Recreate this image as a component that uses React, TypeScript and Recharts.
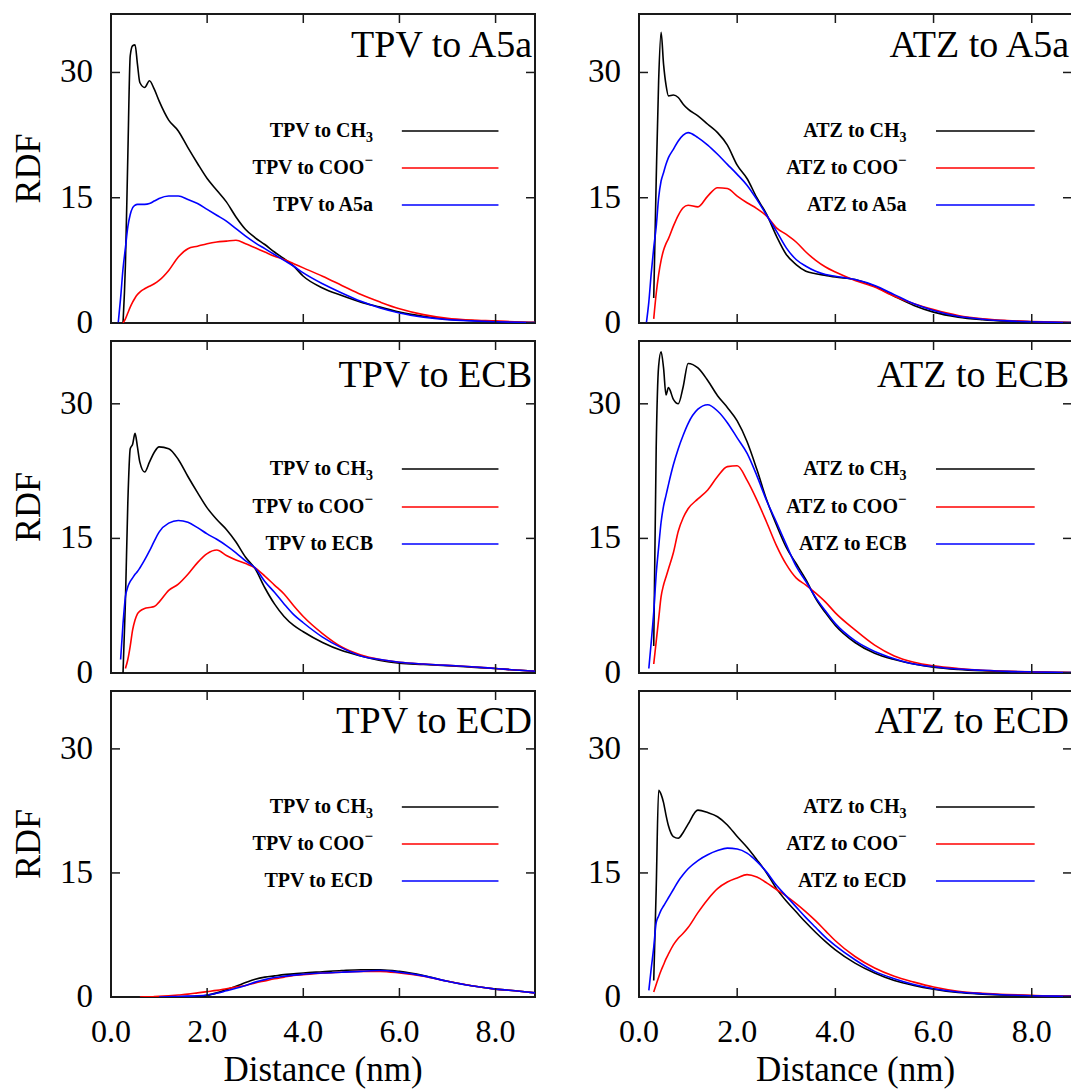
import { LineChart, Line, XAxis, YAxis, ReferenceArea, Legend, Label } from "recharts";

const FONT = '"Liberation Serif", "Times New Roman", Times, serif';

// distance grid (nm) shared by every curve
const DISTANCE = [
  0.15, 0.2, 0.25, 0.3, 0.35, 0.4, 0.45, 0.5, 0.55, 0.6, 0.7, 0.8, 0.9, 1.0, 1.2, 1.4, 1.6, 1.8, 2.0, 2.2,
  2.4, 2.6, 2.8, 3.0, 3.2, 3.4, 3.6, 3.8, 4.0, 4.4, 4.8, 5.2, 5.6, 6.0, 6.5, 7.0, 7.5, 8.0, 8.5, 8.82,
];

const X_TICKS = [0, 2, 4, 6, 8];
const Y_TICKS = [0, 15, 30];
const X_MAX = 8.82;
const Y_MAX = 37;

type V = number | null;
const _ = null;

// TPV to A5a
const TPV_A5A_CH3: V[] = [_, _, 0, 7, 20, 32, 33.2, 33.3, 31, 28.8, 28.2, 29.0, 28.0, 26.6, 24.3, 23.0, 21.0, 19.1, 17.3, 15.9, 14.5, 12.7, 11.2, 10.2, 9.4, 8.5, 7.7, 6.8, 5.6, 4.2, 3.3, 2.5, 1.9, 1.3, 0.8, 0.45, 0.3, 0.15, 0.08, 0.05];
const TPV_A5A_COO: V[] = [_, _, 0, 0.5, 1.2, 1.9, 2.5, 3.0, 3.4, 3.7, 4.1, 4.4, 4.7, 5.1, 6.3, 7.9, 8.9, 9.2, 9.5, 9.7, 9.8, 9.9, 9.5, 9.0, 8.5, 8.0, 7.6, 7.1, 6.6, 5.6, 4.5, 3.4, 2.5, 1.7, 1.0, 0.55, 0.35, 0.25, 0.12, 0.08];
const TPV_A5A_A5A: V[] = [0, 3, 6.5, 9, 11.5, 13.0, 13.8, 14.1, 14.2, 14.2, 14.2, 14.3, 14.6, 14.9, 15.2, 15.2, 14.8, 14.3, 13.6, 12.9, 12.2, 11.3, 10.4, 9.6, 8.9, 8.2, 7.5, 6.8, 6.0, 4.7, 3.6, 2.6, 1.8, 1.2, 0.7, 0.4, 0.25, 0.15, 0.08, 0.05];

// ATZ to A5a
const ATZ_A5A_CH3: V[] = [_, _, _, 3, 17, 29, 34.8, 31, 28.5, 27.2, 27.3, 27.0, 26.2, 25.6, 24.8, 23.8, 22.8, 21.3, 18.9, 17.3, 15.0, 13.0, 10.4, 8.2, 7.0, 6.2, 5.9, 5.7, 5.5, 5.2, 4.4, 3.2, 2.1, 1.3, 0.7, 0.4, 0.22, 0.12, 0.06, 0.04];
const ATZ_A5A_COO: V[] = [_, _, _, 0.5, 3.5, 5.8, 7.5, 8.7, 9.5, 10.1, 11.6, 12.9, 13.8, 14.1, 13.9, 15.2, 16.2, 16.1, 15.2, 14.4, 13.7, 12.8, 11.4, 10.6, 9.7, 8.5, 7.5, 6.7, 6.1, 5.1, 4.3, 3.2, 2.3, 1.6, 0.9, 0.5, 0.3, 0.18, 0.1, 0.06];
const ATZ_A5A_A5A: V[] = [0, 2.5, 6, 9, 11.5, 15, 17, 18, 19, 19.8, 20.8, 21.8, 22.5, 22.8, 22.2, 21.3, 20.2, 19.0, 17.8, 16.5, 14.8, 12.9, 11.0, 9.0, 7.6, 6.8, 6.2, 5.8, 5.6, 5.2, 4.5, 3.4, 2.3, 1.5, 0.8, 0.45, 0.25, 0.15, 0.08, 0.05];

// TPV to ECB
const TPV_ECB_CH3: V[] = [_, _, 0, 8, 19, 25, 25.5, 26.7, 25.2, 23.5, 22.4, 23.5, 24.6, 25.2, 25.0, 23.8, 21.9, 20.1, 18.4, 17.1, 16.0, 14.6, 12.9, 11.6, 9.5, 7.7, 6.3, 5.3, 4.6, 3.4, 2.5, 1.9, 1.4, 1.1, 0.95, 0.8, 0.65, 0.5, 0.3, 0.2];
const TPV_ECB_COO: V[] = [_, _, _, 0.5, 1.5, 3.0, 4.8, 5.9, 6.6, 6.9, 7.2, 7.3, 7.4, 7.9, 9.2, 9.9, 11.0, 12.3, 13.3, 13.7, 13.1, 12.6, 12.2, 11.7, 10.8, 9.8, 8.8, 7.5, 6.3, 4.4, 2.9, 2.0, 1.5, 1.2, 1.0, 0.85, 0.7, 0.5, 0.3, 0.2];
const TPV_ECB_ECB: V[] = [_, 1.5, 5.5, 8.5, 9.6, 10.2, 10.6, 11.0, 11.3, 11.7, 12.6, 13.6, 14.7, 15.7, 16.7, 17.0, 16.8, 16.2, 15.5, 14.9, 14.2, 13.4, 12.5, 11.7, 10.2, 9.0, 7.7, 6.5, 5.6, 4.0, 2.8, 1.9, 1.5, 1.2, 1.0, 0.85, 0.7, 0.5, 0.3, 0.2];

// ATZ to ECB
const ATZ_ECB_CH3: V[] = [_, _, _, 3, 25, 34.2, 35.8, 34, 31, 31.8, 30.5, 30.0, 31.9, 34.5, 34.0, 32.6, 30.9, 29.6, 28.1, 25.8, 22.7, 19.3, 16.5, 14.0, 12.2, 10.4, 8.3, 6.7, 5.3, 3.4, 2.2, 1.5, 1.0, 0.65, 0.4, 0.25, 0.15, 0.1, 0.06, 0.04];
const ATZ_ECB_COO: V[] = [_, _, _, 1.0, 3.5, 6.0, 8.5, 9.8, 10.7, 11.6, 13.4, 15.8, 17.3, 18.3, 19.4, 20.4, 21.9, 23.0, 23.1, 21.5, 19.3, 16.8, 14.2, 12.1, 10.6, 9.8, 8.9, 7.9, 6.7, 4.8, 3.1, 1.9, 1.2, 0.8, 0.5, 0.3, 0.2, 0.12, 0.08, 0.05];
const ATZ_ECB_ECB: V[] = [_, 0.5, 3.5, 6.8, 11, 14, 16.8, 18.6, 19.8, 21, 23.2, 25, 26.5, 27.8, 29.4, 29.9, 29.2, 27.9, 26.2, 24.5, 22, 19.2, 16.8, 14.3, 11.9, 10.2, 8.4, 6.9, 5.5, 3.6, 2.4, 1.6, 1.0, 0.7, 0.45, 0.3, 0.18, 0.12, 0.07, 0.05];

// TPV to ECD
const TPV_ECD_CH3: V[] = [_, _, _, _, _, _, _, _, _, _, _, _, _, _, 0, 0.02, 0.05, 0.1, 0.2, 0.5, 0.9, 1.3, 1.75, 2.15, 2.4, 2.55, 2.7, 2.8, 2.9, 3.05, 3.2, 3.3, 3.3, 3.1, 2.6, 1.9, 1.35, 0.95, 0.7, 0.5];
const TPV_ECD_COO: V[] = [_, _, _, _, _, _, _, _, _, 0, 0.01, 0.02, 0.04, 0.07, 0.15, 0.25, 0.35, 0.5, 0.65, 0.8, 1.0, 1.2, 1.4, 1.7, 1.95, 2.2, 2.4, 2.6, 2.7, 2.9, 3.0, 3.1, 3.1, 2.9, 2.5, 1.9, 1.35, 0.95, 0.7, 0.5];
const TPV_ECD_ECD: V[] = [_, _, _, _, _, _, _, _, _, _, _, _, _, 0, 0.03, 0.06, 0.1, 0.15, 0.25, 0.45, 0.75, 1.05, 1.4, 1.8, 2.1, 2.35, 2.5, 2.65, 2.75, 2.9, 3.0, 3.1, 3.2, 3.0, 2.55, 1.9, 1.35, 0.95, 0.7, 0.5];

// ATZ to ECD
const ATZ_ECD_CH3: V[] = [_, _, _, 2, 13, 25, 24.5, 23.5, 22, 20.7, 19.4, 19.2, 19.9, 20.9, 22.6, 22.3, 21.8, 20.8, 19.4, 18.1, 16.6, 15.0, 13.1, 11.6, 10.3, 9.0, 7.8, 6.7, 5.7, 4.1, 2.9, 2.0, 1.4, 0.95, 0.55, 0.35, 0.22, 0.14, 0.09, 0.07];
const ATZ_ECD_COO: V[] = [_, _, _, 0.6, 1.5, 2.4, 3.2, 3.9, 4.6, 5.2, 6.3, 7.1, 7.7, 8.4, 10.2, 11.8, 13.1, 13.9, 14.4, 14.8, 14.5, 13.8, 13.0, 12.2, 11.3, 10.3, 9.2, 8.0, 6.8, 4.9, 3.5, 2.5, 1.8, 1.2, 0.7, 0.45, 0.3, 0.2, 0.12, 0.1];
const ATZ_ECD_ECD: V[] = [_, 0.8, 3.5, 6.0, 9.0, 9.8, 10.5, 11.0, 11.5, 12.0, 13.0, 14.0, 14.8, 15.5, 16.5, 17.2, 17.7, 18.0, 17.9, 17.4, 16.4, 15.1, 13.5, 12.2, 10.9, 9.6, 8.4, 7.2, 6.2, 4.5, 3.1, 2.2, 1.5, 1.0, 0.6, 0.4, 0.25, 0.15, 0.1, 0.08];

type Panel = { probe: string; target: string; ch3: V[]; coo: V[]; tgt: V[] };

const PANELS: Panel[][] = [
  [
    { probe: "TPV", target: "A5a", ch3: TPV_A5A_CH3, coo: TPV_A5A_COO, tgt: TPV_A5A_A5A },
    { probe: "ATZ", target: "A5a", ch3: ATZ_A5A_CH3, coo: ATZ_A5A_COO, tgt: ATZ_A5A_A5A },
  ],
  [
    { probe: "TPV", target: "ECB", ch3: TPV_ECB_CH3, coo: TPV_ECB_COO, tgt: TPV_ECB_ECB },
    { probe: "ATZ", target: "ECB", ch3: ATZ_ECB_CH3, coo: ATZ_ECB_COO, tgt: ATZ_ECB_ECB },
  ],
  [
    { probe: "TPV", target: "ECD", ch3: TPV_ECD_CH3, coo: TPV_ECD_COO, tgt: TPV_ECD_ECD },
    { probe: "ATZ", target: "ECD", ch3: ATZ_ECD_CH3, coo: ATZ_ECD_COO, tgt: ATZ_ECD_ECD },
  ],
];

const SERIES = [
  { key: "ch3", color: "#000000" },
  { key: "coo", color: "#ff0000" },
  { key: "tgt", color: "#0000ff" },
];

// page layout (px)
const COLUMNS = [
  { left: 0, width: 545, plotLeft: 111, plotRight: 535 },
  { left: 545, width: 545, plotLeft: 639, plotRight: 1072 },
];
const ROWS = [
  { top: 0, height: 340, plotTop: 14, plotBottom: 323, titleY: 57, legendY: [131, 168, 205] },
  { top: 340, height: 350, plotTop: 341, plotBottom: 673, titleY: 387, legendY: [469, 507, 544] },
  { top: 690, height: 399, plotTop: 691, plotBottom: 997, titleY: 733, legendY: [807, 844, 881] },
];

const AXIS = "#1a1a1a";
const TICK_LEN = 9;

function legendText(kind: string, p: Panel) {
  if (kind === "ch3")
    return (
      <>
        {p.probe} to CH<tspan dy={5} fontSize={14}>3</tspan>
      </>
    );
  if (kind === "coo")
    return (
      <>
        {p.probe} to COO<tspan dy={-9} fontSize={15}>−</tspan>
      </>
    );
  return (
    <>
      {p.probe} to {p.target}
    </>
  );
}

function RdfPanel({ panel, ci, ri }: { panel: Panel; ci: number; ri: number }) {
  const col = COLUMNS[ci];
  const row = ROWS[ri];
  const data = DISTANCE.map((d, i) => ({ d, ch3: panel.ch3[i], coo: panel.coo[i], tgt: panel.tgt[i] }));
  const plotW = col.plotRight - col.plotLeft;
  const plotH = row.plotBottom - row.plotTop;
  const isBottom = ri === 2;
  const isLeft = ci === 0;
  // chart-local helpers
  const px = (v: number) => col.plotLeft - col.left + (v / X_MAX) * plotW;
  const py = (pageY: number) => pageY - row.top;

  const xTick = (props: any) => {
    const { x, y, payload } = props;
    return (
      <g>
        <line x1={x} x2={x} y1={y} y2={y - TICK_LEN} stroke={AXIS} strokeWidth={1.5} />
        <line x1={x} x2={x} y1={y - plotH} y2={y - plotH + TICK_LEN} stroke={AXIS} strokeWidth={1.5} />
        {isBottom && (
          <text x={x} y={y + 45} textAnchor="middle" fontFamily={FONT} fontSize={32} fill="#000">
            {Number(payload.value).toFixed(1)}
          </text>
        )}
      </g>
    );
  };

  const yTick = (props: any) => {
    const { x, y, payload } = props;
    return (
      <g>
        <line x1={x} x2={x + TICK_LEN} y1={y} y2={y} stroke={AXIS} strokeWidth={1.5} />
        <line x1={x + plotW} x2={x + plotW - TICK_LEN} y1={y} y2={y} stroke={AXIS} strokeWidth={1.5} />
        <text x={x - 18} y={y + 10} textAnchor="end" fontFamily={FONT} fontSize={33} fill="#000">
          {payload.value}
        </text>
      </g>
    );
  };

  const legend = () => (
    <svg width={col.width} height={row.height} style={{ display: "block", overflow: "visible" }}>
      <text
        x={col.plotRight - col.left - 3}
        y={py(row.titleY)}
        textAnchor="end"
        fontFamily={FONT}
        fontSize={38}
        fill="#000"
      >
        {panel.probe} to {panel.target}
      </text>
      {SERIES.map((s, i) => (
        <g key={s.key}>
          <text
            x={px(5.45)}
            y={py(row.legendY[i]) + 6}
            textAnchor="end"
            fontFamily={FONT}
            fontWeight="bold"
            fontSize={20}
            fill="#000"
          >
            {legendText(s.key, panel)}
          </text>
          <line
            x1={px(6.05)}
            x2={px(8.06)}
            y1={py(row.legendY[i])}
            y2={py(row.legendY[i])}
            stroke={s.color}
            strokeWidth={1.6}
          />
        </g>
      ))}
    </svg>
  );

  return (
    <div style={{ position: "absolute", left: col.left, top: row.top }}>
      <LineChart
        width={col.width}
        height={row.height}
        data={data}
        margin={{ top: row.plotTop - row.top, right: col.left + col.width - col.plotRight, bottom: 0, left: 0 }}
      >
        <XAxis
          type="number"
          dataKey="d"
          domain={[0, X_MAX]}
          ticks={X_TICKS}
          interval={0}
          allowDataOverflow
          tickSize={0}
          tickMargin={0}
          axisLine={false}
          height={row.top + row.height - row.plotBottom}
          tick={xTick}
        >
          {isBottom && (
            <Label
              content={() => (
                <text
                  x={col.plotLeft - col.left + plotW / 2}
                  y={py(1081)}
                  textAnchor="middle"
                  fontFamily={FONT}
                  fontSize={35}
                  fill="#000"
                >
                  Distance (nm)
                </text>
              )}
            />
          )}
        </XAxis>
        <YAxis
          type="number"
          domain={[0, Y_MAX]}
          ticks={Y_TICKS}
          interval={0}
          allowDataOverflow
          tickSize={0}
          tickMargin={0}
          axisLine={false}
          width={col.plotLeft - col.left}
          tick={yTick}
        >
          {isLeft && (
            <Label
              content={() => {
                const cx = 40;
                const cy = py((row.plotTop + row.plotBottom) / 2);
                return (
                  <text
                    x={cx}
                    y={cy}
                    transform={`rotate(-90, ${cx}, ${cy})`}
                    textAnchor="middle"
                    fontFamily={FONT}
                    fontSize={36}
                    fill="#000"
                  >
                    RDF
                  </text>
                );
              }}
            />
          )}
        </YAxis>
        <ReferenceArea
          x1={0}
          x2={X_MAX}
          y1={0}
          y2={Y_MAX}
          fill="none"
          stroke={AXIS}
          strokeWidth={2}
          ifOverflow="visible"
        />
        {SERIES.map((s) => (
          <Line
            key={s.key}
            type="monotone"
            dataKey={s.key}
            stroke={s.color}
            strokeWidth={1.6}
            dot={false}
            activeDot={false}
            isAnimationActive={false}
          />
        ))}
        <Legend
          content={legend}
          layout="horizontal"
          verticalAlign="middle"
          align="center"
          wrapperStyle={{ left: 0, top: 0, width: col.width, height: row.height, pointerEvents: "none" }}
        />
      </LineChart>
    </div>
  );
}

export default function App() {
  return (
    <div
      style={{
        position: "absolute",
        left: 0,
        top: 0,
        width: 1071,
        height: 1089,
        overflow: "hidden",
        background: "#fff",
      }}
    >
      {PANELS.map((rowPanels, ri) =>
        rowPanels.map((p, ci) => <RdfPanel key={`${ri}-${ci}`} panel={p} ci={ci} ri={ri} />),
      )}
    </div>
  );
}
